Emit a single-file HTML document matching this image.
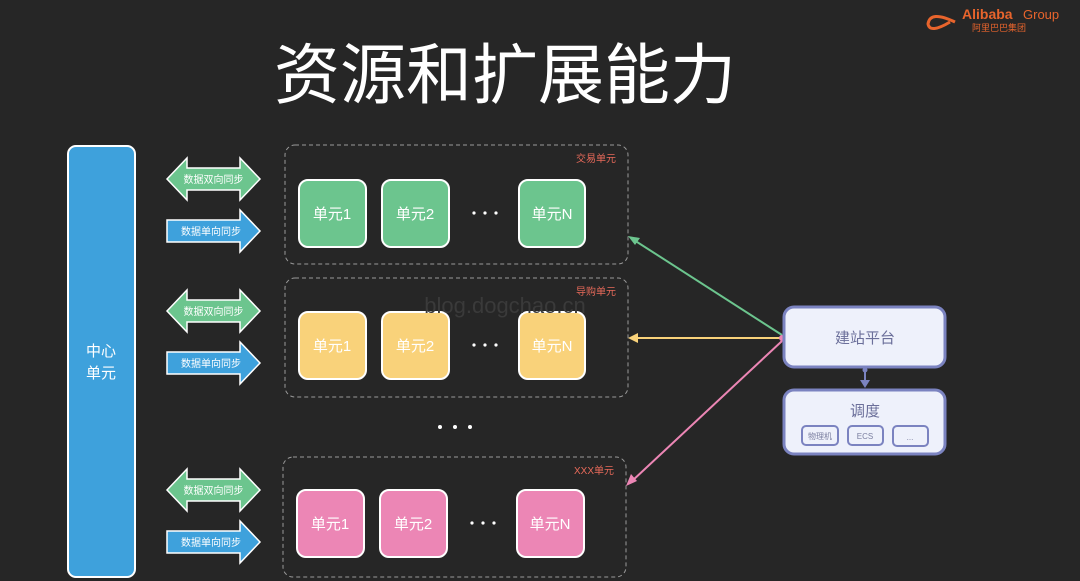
<!DOCTYPE html>
<html><head><meta charset="utf-8"><style>
body{margin:0;background:#262626;}
svg{display:block;font-family:"Liberation Sans","Noto Sans CJK SC",sans-serif;}
</style></head><body>
<svg width="1080" height="581" viewBox="0 0 1080 581">
<rect width="1080" height="581" fill="#262626"/>
<text x="505" y="98" font-size="66" fill="#fff" text-anchor="middle">资源和扩展能力</text>
<path d="M955 22 Q930 10 928 24 Q930 34 950 22" stroke="#e8642c" stroke-width="3" fill="none"/>
<text x="962" y="19" font-size="14" font-weight="bold" fill="#e8642c">Alibaba</text>
<text x="1023" y="19" font-size="13" fill="#e8642c">Group</text>
<text x="972" y="31" font-size="9" fill="#e8642c">阿里巴巴集团</text>
<rect x="68" y="146" width="67" height="431" rx="8" fill="#3ea1dc" stroke="#fff" stroke-width="2"/>
<text x="101" y="356" font-size="15" fill="#fff" text-anchor="middle">中心</text>
<text x="101" y="378" font-size="15" fill="#fff" text-anchor="middle">单元</text>
<defs>
<g id="dbl"><path d="M0 0 L20 -21 L20 -11 L73 -11 L73 -21 L93 0 L73 21 L73 11 L20 11 L20 21 Z" fill="#6cc58e" stroke="#fff" stroke-width="1.5"/><text x="46.5" y="4" font-size="10" fill="#fff" text-anchor="middle">数据双向同步</text></g>
<g id="sgl"><path d="M0 -11 L73 -11 L73 -21 L93 0 L73 21 L73 11 L0 11 Z" fill="#3ea1dc" stroke="#fff" stroke-width="1.5"/><text x="44" y="4" font-size="10" fill="#fff" text-anchor="middle">数据单向同步</text></g>
</defs>
<use href="#dbl" x="167" y="179"/><use href="#sgl" x="167" y="231"/>
<use href="#dbl" x="167" y="311"/><use href="#sgl" x="167" y="363"/>
<use href="#dbl" x="167" y="490"/><use href="#sgl" x="167" y="542"/>
<g fill="none" stroke="#999" stroke-dasharray="4 3" stroke-width="1">
<rect x="285" y="145" width="343" height="119" rx="10"/>
<rect x="285" y="278" width="343" height="119" rx="10"/>
<rect x="283" y="457" width="343" height="120" rx="10"/>
</g>
<g font-size="10" fill="#e86a5a" text-anchor="end">
<text x="616" y="162">交易单元</text><text x="616" y="295">导购单元</text><text x="614" y="474">XXX单元</text>
</g>
<g stroke="#fff" stroke-width="2" font-size="15" text-anchor="middle">
<g fill="#6cc58e"><rect x="299" y="180" width="67" height="67" rx="9"/><rect x="382" y="180" width="67" height="67" rx="9"/><rect x="519" y="180" width="66" height="67" rx="9"/></g>
<g fill="#f9d27a"><rect x="299" y="312" width="67" height="67" rx="9"/><rect x="382" y="312" width="67" height="67" rx="9"/><rect x="519" y="312" width="66" height="67" rx="9"/></g>
<g fill="#ec86b5"><rect x="297" y="490" width="67" height="67" rx="9"/><rect x="380" y="490" width="67" height="67" rx="9"/><rect x="517" y="490" width="67" height="67" rx="9"/></g>
</g>
<g font-size="15" fill="#fff" text-anchor="middle">
<text x="332" y="219">单元1</text><text x="415" y="219">单元2</text><text x="552" y="219">单元N</text>
<text x="332" y="351">单元1</text><text x="415" y="351">单元2</text><text x="552" y="351">单元N</text>
<text x="330" y="529">单元1</text><text x="413" y="529">单元2</text><text x="550" y="529">单元N</text>
</g>
<g fill="#fff"><circle cx="474" cy="213" r="1.6"/><circle cx="485" cy="213" r="1.6"/><circle cx="496" cy="213" r="1.6"/>
<circle cx="474" cy="345" r="1.6"/><circle cx="485" cy="345" r="1.6"/><circle cx="496" cy="345" r="1.6"/>
<circle cx="472" cy="523" r="1.6"/><circle cx="483" cy="523" r="1.6"/><circle cx="494" cy="523" r="1.6"/>
<circle cx="440" cy="427" r="2"/><circle cx="455" cy="427" r="2"/><circle cx="470" cy="427" r="2"/></g>
<text x="505" y="313" font-size="22" fill="#3a3a3a" text-anchor="middle">blog.dogchao.cn</text>
<g stroke-width="2" fill="none">
<line x1="782" y1="335" x2="634" y2="240" stroke="#6cc58e"/>
<line x1="782" y1="338" x2="636" y2="338" stroke="#f9d27a"/>
<line x1="782" y1="341" x2="632" y2="481" stroke="#ec86b5"/>
</g>
<path d="M628 236 L640 238 L635 245 Z" fill="#6cc58e"/>
<path d="M628 338 L638 333 L638 343 Z" fill="#f9d27a"/>
<path d="M626 486 L631 474 L637 481 Z" fill="#ec86b5"/>
<circle cx="782" cy="338" r="3" fill="#ec86b5"/>
<rect x="784" y="307" width="161" height="60" rx="10" fill="#eef1fb" stroke="#7b83c0" stroke-width="3"/>
<text x="865" y="343" font-size="15" fill="#6b6f9a" text-anchor="middle">建站平台</text>
<line x1="865" y1="369" x2="865" y2="382" stroke="#7b83c0" stroke-width="2"/>
<circle cx="865" cy="370" r="2.5" fill="#7b83c0"/>
<path d="M860 380 L870 380 L865 388 Z" fill="#7b83c0"/>
<rect x="784" y="390" width="161" height="64" rx="10" fill="#eef1fb" stroke="#7b83c0" stroke-width="3"/>
<text x="865" y="416" font-size="15" fill="#6b6f9a" text-anchor="middle">调度</text>
<g fill="none" stroke="#7b83c0" stroke-width="2"><rect x="802" y="426" width="36" height="19" rx="4"/><rect x="848" y="426" width="35" height="19" rx="4"/><rect x="893" y="426" width="35" height="20" rx="4"/></g>
<g font-size="8" fill="#7b7fa0" text-anchor="middle"><text x="820" y="439">物理机</text><text x="865" y="439">ECS</text><text x="910" y="440">...</text></g>
</svg>
</body></html>
